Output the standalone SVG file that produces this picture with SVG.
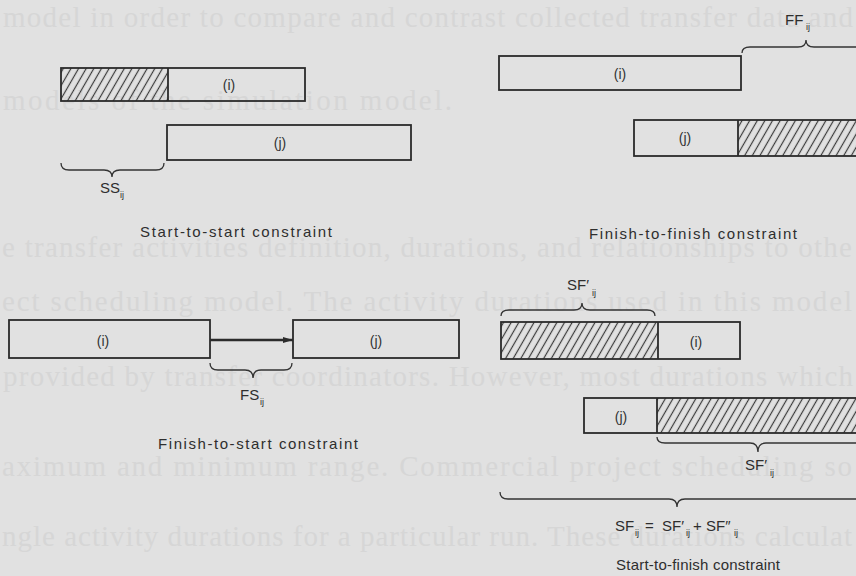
<svg xmlns="http://www.w3.org/2000/svg" width="856" height="576" viewBox="0 0 856 576">
<style>
.bg{fill:#e1e1e1}
.ghost{font-family:"Liberation Serif",serif;font-size:29px;fill:#d6d6d6}
.bar{fill:none;stroke:#2b2b2b;stroke-width:1.8}
.hatch{fill:url(#hatch);stroke:none}
.brace{fill:none;stroke:#333;stroke-width:1.3}
.lbl{font-family:"Liberation Sans",Arial,sans-serif;font-size:14px;fill:#333;text-anchor:middle}
.cap{font-family:"Liberation Sans",Arial,sans-serif;font-size:15px;fill:#2e2e2e}
.sym{font-family:"Liberation Sans",Arial,sans-serif;font-size:15px;fill:#2e2e2e}
.sub{font-family:"Liberation Sans",Arial,sans-serif;font-size:9px;fill:#2e2e2e}
</style>
<defs>
<pattern id="hatch" patternUnits="userSpaceOnUse" width="6.6" height="12" patternTransform="rotate(30)">
<line x1="3.3" y1="-1" x2="3.3" y2="13" stroke="#3a3a3a" stroke-width="1.2"/>
</pattern>
<marker id="arr" markerWidth="10" markerHeight="8" refX="10" refY="4" orient="auto" markerUnits="userSpaceOnUse">
<path d="M0,1 L10,4 L0,7 Z" fill="#2b2b2b"/>
</marker>
</defs>
<rect class="bg" x="0" y="0" width="856" height="576"/>
<g id="background-text">
<text class="ghost" x="3" y="27" textLength="850">model in order to compare and contrast collected transfer data and</text>
<text class="ghost" x="3" y="110" textLength="449">models of the simulation model.</text>
<text class="ghost" x="2" y="257" textLength="850">e transfer activities definition, durations, and relationships to othe</text>
<text class="ghost" x="2" y="311" textLength="850">ect scheduling model. The activity durations used in this model</text>
<text class="ghost" x="3" y="386" textLength="850">provided by transfer coordinators. However, most durations which</text>
<text class="ghost" x="2" y="476" textLength="850">aximum and minimum range. Commercial project scheduling so</text>
<text class="ghost" x="2" y="546" textLength="850">ngle activity durations for a particular run. These durations calculat</text>
</g>

<g id="ss-i">
<rect class="hatch" x="61" y="68" width="107" height="33"/>
<rect class="bar" x="61" y="68" width="244" height="33"/>
<line class="bar" x1="168" y1="68" x2="168" y2="101"/>
<text class="lbl" x="229" y="90">(i)</text>
</g>
<g id="ss-j">
<rect class="bar" x="167" y="125" width="244" height="35"/>
<text class="lbl" x="280" y="148">(j)</text>
</g>
<text class="sym" x="100" y="193">SS</text><text class="sub" x="120" y="198">ij</text>
<text class="cap" x="140" y="237" textLength="192">Start-to-start constraint</text>

<g id="ff-i">
<rect class="bar" x="499" y="56" width="242" height="34"/>
<text class="lbl" x="620" y="79">(i)</text>
</g>
<g id="ff-j">
<rect class="hatch" x="738" y="120" width="130" height="36"/>
<rect class="bar" x="634" y="120" width="240" height="36"/>
<line class="bar" x1="738" y1="120" x2="738" y2="156"/>
<text class="lbl" x="685" y="143">(j)</text>
</g>
<text class="sym" x="785" y="25">FF</text><text class="sub" x="806" y="30">ij</text>
<text class="cap" x="589" y="239" textLength="208">Finish-to-finish constraint</text>

<g id="fs-i">
<rect class="bar" x="9" y="320" width="201" height="38"/>
<text class="lbl" x="103" y="346">(i)</text>
</g>
<g id="fs-j">
<rect class="bar" x="293" y="320" width="166" height="38"/>
<text class="lbl" x="376" y="346">(j)</text>
</g>
<text class="sym" x="240" y="400">FS</text><text class="sub" x="260" y="405">ij</text>
<text class="cap" x="158" y="449" textLength="200">Finish-to-start constraint</text>

<g id="sf-i">
<rect class="hatch" x="501" y="322" width="157" height="37"/>
<rect class="bar" x="501" y="322" width="239" height="37"/>
<line class="bar" x1="658" y1="322" x2="658" y2="359"/>
<text class="lbl" x="696" y="347">(i)</text>
</g>
<g id="sf-j">
<rect class="hatch" x="657" y="398" width="210" height="35"/>
<rect class="bar" x="584" y="398" width="290" height="35"/>
<line class="bar" x1="657" y1="398" x2="657" y2="433"/>
<text class="lbl" x="621" y="422">(j)</text>
</g>
<text class="sym" x="567" y="290">SF′</text><text class="sub" x="592" y="296">ij</text>
<text class="sym" x="745" y="470">SF′</text><text class="sub" x="770" y="476">ij</text>
<text class="sym" x="615" y="531">SF</text><text class="sub" x="635" y="536">ij</text>
<text class="sym" x="645" y="531">=</text>
<text class="sym" x="662" y="531">SF′</text><text class="sub" x="686" y="536">ij</text>
<text class="sym" x="693" y="531">+</text>
<text class="sym" x="706" y="531">SF″</text><text class="sub" x="734" y="536">ij</text>
<text class="cap" x="616" y="570" textLength="164">Start-to-finish constraint</text>

<g id="connectors">
<path class="brace" d="M61,163 Q61,170 69,170 L104,170 Q112,170 112,177 Q112,170 120,170 L156,170 Q164,170 164,163"/>
<path class="brace" d="M210,363 Q210,370 218,370 L245,370 Q253,370 253,378 Q253,370 261,370 L284,370 Q292,370 292,363"/>
<path class="brace" d="M742,53 Q742,47 750,47 L798,47 Q806,47 806,40 Q806,47 814,47 L870,47"/>
<path class="brace" d="M501,316 Q501,310 509,310 L574,310 Q582,310 582,303 Q582,310 590,310 L647,310 Q655,310 655,316"/>
<path class="brace" d="M657,437 Q657,443 665,443 L750,443 Q758,443 758,452 Q758,443 766,443 L870,443"/>
<path class="brace" d="M500,492 Q500,499 508,499 L669,499 Q677,499 677,507 Q677,499 685,499 L870,499"/>
<line x1="210" y1="340" x2="293" y2="340" stroke="#2b2b2b" stroke-width="2.4" marker-end="url(#arr)"/>
</g>
</svg>
